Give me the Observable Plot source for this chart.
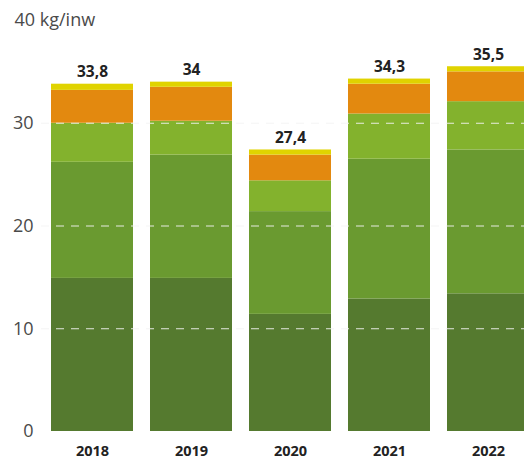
<!DOCTYPE html>
<html>
<head>
<meta charset="utf-8">
<script src="https://cdn.jsdelivr.net/npm/d3@7"></script>
<script src="https://cdn.jsdelivr.net/npm/@observablehq/plot@0.6"></script>
<style>
  html, body { margin: 0; padding: 0; background: #fff; }
  #chart svg { display: block; overflow: hidden; }
</style>
</head>
<body>
<div id="chart"></div>
<script>
const years = ["2018", "2019", "2020", "2021", "2022"];
const categories = ["a", "b", "c", "d", "e"];
const colors = ["#557a2f", "#6a9a30", "#83b22d", "#e3890f", "#e0d300"];
const seriesA = [14.9, 14.9, 11.4, 12.9, 13.4];
const seriesB = [11.3, 12.0, 10.0, 13.6, 14.0];
const seriesC = [3.8, 3.3, 3.0, 4.4, 4.7];
const seriesD = [3.2, 3.3, 2.5, 2.9, 2.9];
const seriesE = [0.6, 0.5, 0.5, 0.5, 0.5];
const totals = [33.8, 34, 27.4, 34.3, 35.5];
const yTicks = [0, 10, 20, 30];
const gridValues = [10, 20, 30];
const unitLabel = "40 kg/inw";

const allSeries = [seriesA, seriesB, seriesC, seriesD, seriesE];
const rows = [];
categories.forEach((c, ci) => {
  years.forEach((y, yi) => rows.push({year: y, cat: c, value: allSeries[ci][yi]}));
});
const totalRows = years.map((y, i) => ({year: y, total: totals[i]}));

const font = "'Open Sans', 'Noto Sans', sans-serif";

const chart = Plot.plot({
  width: 524,
  height: 459,
  marginLeft: 41,
  marginRight: 0,
  marginTop: 20,
  marginBottom: 28,
  style: {fontFamily: font, background: "#fff"},
  x: {domain: years, range: [41.35, 537.85], paddingInner: 0.174, paddingOuter: 0.087, label: null},
  y: {domain: [0, 40], label: null},
  color: {domain: categories, range: colors},
  marks: [
    Plot.barY(rows, {x: "year", y: "value", fill: "cat", order: categories}),
    Plot.ruleY(gridValues, {stroke: "#f4f4f4", strokeWidth: 1.2, strokeDasharray: "8,7", strokeOpacity: 0.9}),
    Plot.text(totalRows, {x: "year", y: "total", text: d => String(d.total).replace(".", ","), lineAnchor: "bottom", dy: -7, fontSize: 15.5, fontWeight: "bold", fill: "#222"}),
    Plot.axisY(yTicks, {tickSize: 0, tickPadding: 8, fontSize: 18, fontWeight: 400, fill: "#4a4a4a", textAnchor: "end"}),
    Plot.text([40], {y: d => d, text: () => unitLabel, frameAnchor: "left", dx: -27, textAnchor: "start", lineAnchor: "middle", fontSize: 18, fontWeight: 400, fill: "#4a4a4a"}),
    Plot.axisX({tickSize: 0, tickPadding: 14, fontSize: 14.5, fontWeight: "bold", fill: "#222"})
  ]
});
document.getElementById("chart").appendChild(chart);
</script>
</body>
</html>
